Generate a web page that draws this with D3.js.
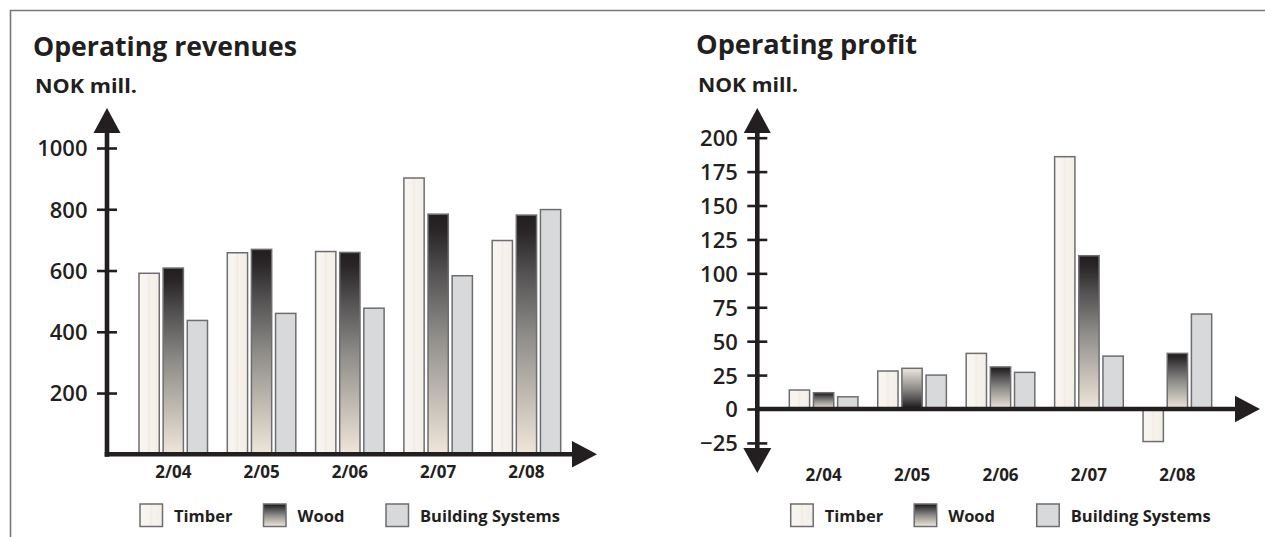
<!DOCTYPE html>
<html>
<head>
<meta charset="utf-8">
<script src="https://cdn.jsdelivr.net/npm/d3@7"></script>
<style>
  body { margin: 0; background: #fff; }
  text { font-family: "Open Sans", "Noto Sans", sans-serif; fill: #231f20; }
</style>
</head>
<body>
<svg id="chart" width="1265" height="537"></svg>
<script>
// --- data ---
const categories = ["2/04", "2/05", "2/06", "2/07", "2/08"];
const seriesNames = ["Timber", "Wood", "Building Systems"];

const revTimber = [591, 658, 662, 902, 698];
const revWood = [608, 669, 659, 784, 781];
const revBuilding = [437, 460, 477, 583, 799];
const revTicks = [200, 400, 600, 800, 1000];

const profitTimber = [14, 28, 41, 186, -24];
const profitWood = [12, 30, 31, 113, 41];
const profitBuilding = [9, 25, 27, 39, 70];
const profitTicks = [-25, 0, 25, 50, 75, 100, 125, 150, 175, 200];

const ink = "#231f20";
const svg = d3.select("#chart");

// frame (top + left rule)
svg.append("path")
  .attr("d", "M10.5,537 V10.5 H1265")
  .attr("fill", "none")
  .attr("stroke", "#777")
  .attr("stroke-width", 1.6);

// --- fills ---
const defs = svg.append("defs");

const timberGrad = defs.append("linearGradient").attr("id", "timber")
  .attr("x1", 0).attr("x2", 1).attr("y1", 0).attr("y2", 0);
[[0, "#f9f6f2"], [0.4, "#f7f3ee"], [0.5, "#f2ece3"], [0.6, "#f6f2ec"], [1, "#f3eee6"]]
  .forEach(([o, c]) => timberGrad.append("stop").attr("offset", o).attr("stop-color", c));

function woodGradient(id, flip) {
  const g = defs.append("linearGradient").attr("id", id)
    .attr("x1", 0).attr("x2", 0).attr("y1", flip ? 1 : 0).attr("y2", flip ? 0 : 1);
  [[0, "#221e1f"], [0.07, "#2a2627"], [0.25, "#555353"], [0.5, "#8e8c89"], [0.78, "#c5bfb6"], [1, "#f0e7da"]]
    .forEach(([o, c]) => g.append("stop").attr("offset", o).attr("stop-color", c));
}
woodGradient("wood", false);
woodGradient("woodFlip", true);

const fills = { "Timber": "url(#timber)", "Wood": "url(#wood)", "Building Systems": "#d8d9db" };
const barStroke = "#6e6e70";

function drawChart(cfg) {
  const rows = categories.map((c, i) => ({
    cat: c,
    vals: seriesNames.map((s, j) => ({ cat: c, series: s, value: cfg.series[j][i] }))
  }));

  const x0 = d3.scaleBand().domain(categories).range(cfg.xRange).paddingInner(0.224).paddingOuter(0);
  const x1 = d3.scaleBand().domain(seriesNames).range([0, x0.bandwidth()]).paddingInner(0.16);
  const y = d3.scaleLinear().domain(cfg.yDomain).range(cfg.yRange);
  const zeroY = y(0);

  // titles
  svg.append("text").attr("x", cfg.titleX).attr("y", cfg.titleY)
    .attr("font-size", 27).attr("font-weight", 700)
    .attr("textLength", cfg.titleW).attr("lengthAdjust", "spacingAndGlyphs")
    .text(cfg.title);
  svg.append("text").attr("x", cfg.unitX).attr("y", cfg.unitY)
    .attr("font-size", 20).attr("font-weight", 700)
    .attr("textLength", cfg.unitW).attr("lengthAdjust", "spacingAndGlyphs")
    .text("NOK mill.");

  // bars
  const g = svg.append("g");
  g.selectAll("g.grp")
    .data(rows)
    .join("g")
    .attr("class", "grp")
    .attr("transform", d => `translate(${x0(d.cat)},0)`)
    .selectAll("rect")
    .data(d => d.vals)
    .join("rect")
    .attr("x", d => x1(d.series))
    .attr("y", d => Math.min(y(d.value), zeroY))
    .attr("width", x1.bandwidth())
    .attr("height", d => Math.abs(y(d.value) - zeroY))
    .attr("fill", d => (cfg.flipWood === d.cat && d.series === "Wood") ? "url(#woodFlip)" : fills[d.series])
    .attr("stroke", barStroke)
    .attr("stroke-width", 1.5);

  // y axis with ticks crossing the line
  const yAxis = svg.append("g")
    .attr("transform", `translate(${cfg.axisX},0)`)
    .call(d3.axisLeft(y).tickValues(cfg.ticks).tickFormat(d3.format("d")).tickSize(10).tickPadding(10));
  yAxis.select(".domain").remove();
  yAxis.selectAll(".tick line").attr("x1", -10).attr("x2", 10)
    .attr("stroke", ink).attr("stroke-width", 2.6);
  yAxis.selectAll(".tick text")
    .attr("font-size", 22).attr("font-weight", 600).attr("fill", ink)
    .attr("dy", "0.36em").attr("x", -19.5);
  yAxis.attr("font-family", null);

  const yBottom = cfg.yBottom != null ? cfg.yBottom - 25 : zeroY + 2.4;
  svg.append("line")
    .attr("x1", cfg.axisX).attr("x2", cfg.axisX)
    .attr("y1", cfg.yTop + 20).attr("y2", yBottom)
    .attr("stroke", ink).attr("stroke-width", 4.6);
  svg.append("polygon")
    .attr("points", [[cfg.axisX, cfg.yTop], [cfg.axisX - 13.5, cfg.yTop + 25], [cfg.axisX + 13.5, cfg.yTop + 25]].join(" "))
    .attr("fill", ink);
  if (cfg.yBottom != null) {
    svg.append("polygon")
      .attr("points", [[cfg.axisX, cfg.yBottom], [cfg.axisX - 14, cfg.yBottom - 25], [cfg.axisX + 14, cfg.yBottom - 25]].join(" "))
      .attr("fill", ink);
  }

  // x axis line + arrow
  svg.append("line")
    .attr("x1", cfg.axisX - 2.3).attr("x2", cfg.xEnd - 20)
    .attr("y1", zeroY).attr("y2", zeroY)
    .attr("stroke", ink).attr("stroke-width", 4.6);
  svg.append("polygon")
    .attr("points", [[cfg.xEnd, zeroY], [cfg.xEnd - 25, zeroY - 13.3], [cfg.xEnd - 25, zeroY + 13.3]].join(" "))
    .attr("fill", ink);

  // category labels
  const xAxis = svg.append("g")
    .attr("transform", `translate(0,${cfg.labelY})`)
    .call(d3.axisBottom(x0).tickSize(0).tickPadding(0));
  xAxis.select(".domain").remove();
  xAxis.attr("font-family", null);
  xAxis.selectAll(".tick text")
    .attr("font-size", 17).attr("font-weight", 700).attr("fill", ink)
    .attr("dy", 0).attr("y", 0);

  // legend
  const legendOffsets = [0, 123.5, 246];
  const lg = svg.append("g").attr("transform", `translate(${cfg.legendX},504)`);
  const item = lg.selectAll("g").data(seriesNames).join("g")
    .attr("transform", (d, i) => `translate(${legendOffsets[i]},0)`);
  item.append("rect")
    .attr("width", 22.5).attr("height", 22.5)
    .attr("fill", d => fills[d])
    .attr("stroke", barStroke).attr("stroke-width", 1.5);
  item.append("text")
    .attr("x", 34).attr("y", 17.7)
    .attr("font-size", 16.5).attr("font-weight", 700)
    .text(d => d);
}

drawChart({
  title: "Operating revenues", titleX: 33, titleY: 55.5, titleW: 264,
  unitX: 35, unitY: 93, unitW: 102,
  series: [revTimber, revWood, revBuilding],
  xRange: [139, 560.7],
  yDomain: [0, 1000], yRange: [454.3, 148],
  ticks: revTicks,
  axisX: 107, yTop: 108, yBottom: null, xEnd: 597,
  labelY: 478, legendX: 140
});

drawChart({
  title: "Operating profit", titleX: 696, titleY: 54, titleW: 221,
  unitX: 698, unitY: 92, unitW: 100,
  series: [profitTimber, profitWood, profitBuilding],
  xRange: [789.3, 1211.7],
  yDomain: [0, 200], yRange: [409, 137.7],
  ticks: profitTicks,
  axisX: 757.3, yTop: 108, yBottom: 473, xEnd: 1260,
  labelY: 481, legendX: 790.7,
  flipWood: "2/05" // the reference draws this one bar's gradient upside down
});
</script>
</body>
</html>
